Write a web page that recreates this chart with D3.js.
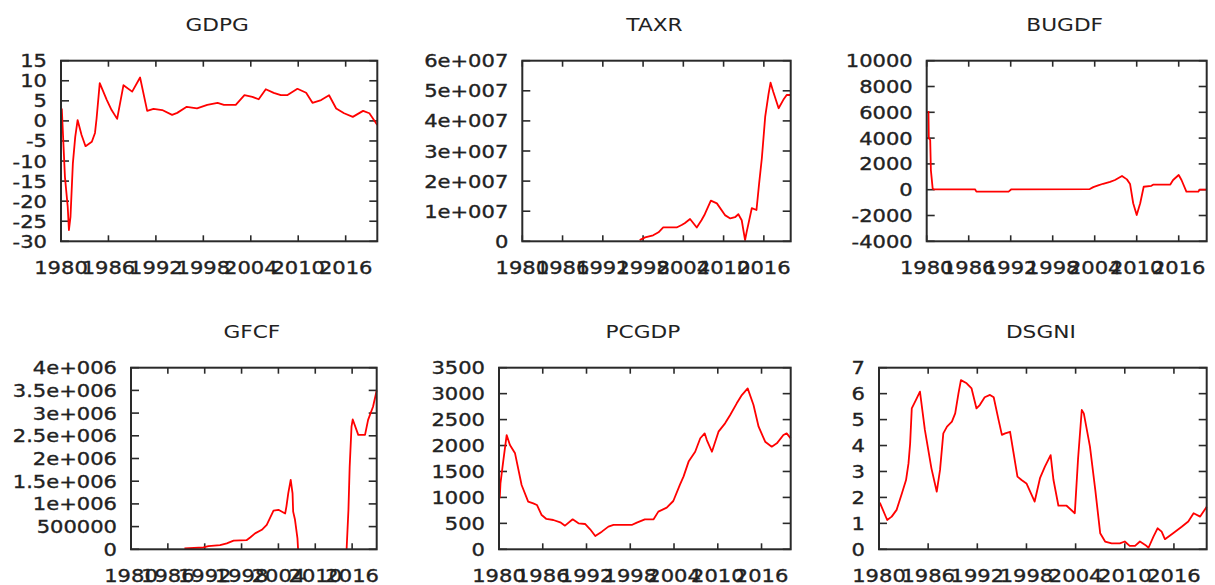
<!DOCTYPE html>
<html>
<head>
<meta charset="utf-8">
<script src="https://cdn.jsdelivr.net/npm/d3@7"></script>
<style>
  html, body { margin: 0; padding: 0; background: #fff; }
  svg { display: block; }
  text { font-family: "DejaVu Sans", Verdana, sans-serif; fill: #222; }
  text.tick { stroke: #222; stroke-width: 0.35px; }
</style>
</head>
<body>
<svg id="chart" width="1215" height="585"></svg>
<script>
// ---------- DATA ----------
const titles = ["GDPG", "TAXR", "BUGDF", "GFCF", "PCGDP", "DSGNI"];
const xTicks = [1980, 1986, 1992, 1998, 2004, 2010, 2016];
const xDomain = [1980, 2020];

// [year, value]
const gdpg = [[1980.1,3.1],[1980.5,-14],[1980.85,-21.4],[1981.0,-27.2],[1981.2,-23.9],[1981.5,-10.6],[1981.8,-4],[1982.1,0.2],[1982.6,-3.5],[1983.1,-6.3],[1983.9,-5.2],[1984.3,-3],[1984.5,0.6],[1984.9,9.4],[1985.8,5.2],[1986.4,2.7],[1987.1,0.5],[1987.9,8.9],[1989.0,7.3],[1990.0,10.8],[1990.9,2.5],[1991.7,3],[1992.8,2.7],[1994.05,1.5],[1994.7,2],[1995.9,3.5],[1997.2,3.1],[1998.5,4],[1999.8,4.5],[2000.6,4],[2002.1,4],[2003.2,6.4],[2004.2,6],[2005.0,5.4],[2005.9,7.9],[2006.9,7],[2007.8,6.4],[2008.6,6.4],[2009.9,8],[2011.0,7],[2011.8,4.5],[2012.9,5.2],[2013.9,6.4],[2014.8,3.1],[2015.8,1.9],[2016.9,1],[2018.2,2.5],[2019.0,1.9],[2020.0,-1]];
const taxr = [[1997.5,0.04e7],[1998.3,0.13e7],[1999.5,0.2e7],[2000.3,0.3e7],[2001.0,0.46e7],[2003.0,0.46e7],[2003.75,0.54e7],[2004.2,0.6e7],[2005.0,0.74e7],[2006.0,0.46e7],[2006.7,0.7e7],[2007.2,0.9e7],[2008.1,1.35e7],[2009.0,1.26e7],[2010.2,0.87e7],[2011.0,0.76e7],[2011.7,0.8e7],[2012.2,0.9e7],[2012.7,0.7e7],[2013.2,0.04e7],[2013.4,0.27e7],[2014.2,1.1e7],[2014.9,1.04e7],[2015.3,1.93e7],[2015.7,2.76e7],[2016.2,4.14e7],[2016.7,4.9e7],[2017.0,5.27e7],[2017.4,4.97e7],[2018.2,4.42e7],[2018.9,4.7e7],[2019.4,4.86e7],[2020.0,4.86e7]];
const bugdf = [[1980.25,6100],[1980.3,4000],[1980.5,3850],[1980.6,1500],[1980.85,100],[1980.95,30],[1986.9,30],[1987.1,-150],[1991.7,-150],[1992.1,30],[2003.3,50],[2003.8,200],[2004.5,330],[2005.2,460],[2006.2,600],[2006.9,750],[2007.9,1060],[2008.6,800],[2009.05,450],[2009.5,-1050],[2010.0,-1960],[2010.5,-1050],[2011.0,230],[2012.1,300],[2012.4,400],[2014.8,400],[2015.2,750],[2016.0,1140],[2016.4,750],[2017.1,-150],[2018.8,-150],[2019.0,0],[2020.0,0]];
const gfcf = [[1988.7,0.02e6],[1991.8,0.04e6],[1992.6,0.07e6],[1994.5,0.09e6],[1995.6,0.13e6],[1996.7,0.19e6],[1998.8,0.2e6],[1999.4,0.26e6],[2000.2,0.35e6],[2001.3,0.43e6],[2002.1,0.54e6],[2002.6,0.68e6],[2003.2,0.85e6],[2004.0,0.87e6],[2005.1,0.79e6],[2005.3,0.94e6],[2005.6,1.23e6],[2006.0,1.53e6],[2006.3,1.23e6],[2006.4,0.83e6],[2006.7,0.65e6],[2007.1,0.24e6],[2007.2,0],[2011.0,null],[2015.1,0],[2015.4,0.87e6],[2015.6,1.82e6],[2015.9,2.7e6],[2016.1,2.86e6],[2017.0,2.52e6],[2018.1,2.52e6],[2018.6,2.85e6],[2019.4,3.14e6],[2020.0,3.5e6]];
const pcgdp = [[1980.1,983],[1980.2,1270],[1980.6,1720],[1981.05,2200],[1981.5,2010],[1982.2,1850],[1983.1,1240],[1984.0,920],[1984.7,886],[1985.2,854],[1985.85,660],[1986.5,585],[1987.45,565],[1988.4,520],[1989.05,456],[1990.1,578],[1990.9,500],[1991.8,488],[1992.5,385],[1993.2,257],[1994.1,340],[1995.0,437],[1995.7,469],[1998.2,469],[1998.9,514],[2000.0,578],[2001.2,578],[2001.85,726],[2003.0,803],[2003.9,931],[2004.8,1240],[2005.3,1400],[2006.0,1690],[2006.9,1880],[2007.6,2140],[2008.2,2235],[2008.5,2106],[2009.2,1880],[2010.1,2267],[2011.0,2428],[2011.7,2588],[2012.6,2813],[2013.3,2973],[2014.1,3102],[2014.9,2781],[2015.6,2363],[2016.5,2074],[2017.4,1978],[2018.1,2042],[2019.0,2203],[2019.45,2235],[2020.0,2139]];
const dsgni = [[1980.1,1.8],[1981.0,1.13],[1981.55,1.26],[1982.15,1.52],[1982.8,2.16],[1983.3,2.67],[1983.6,3.31],[1983.8,4.08],[1984.0,5.43],[1984.5,5.75],[1985.0,6.08],[1985.6,4.6],[1986.4,3.12],[1987.05,2.22],[1987.45,3.06],[1987.85,4.47],[1988.3,4.73],[1988.9,4.92],[1989.3,5.24],[1989.7,6.01],[1990.0,6.52],[1990.7,6.4],[1991.3,6.2],[1991.9,5.43],[1992.3,5.56],[1992.9,5.86],[1993.55,5.95],[1994.0,5.86],[1994.6,4.98],[1995.0,4.41],[1995.4,4.47],[1996.0,4.53],[1996.4,3.76],[1996.9,2.8],[1997.4,2.67],[1998.0,2.54],[1999.0,1.84],[1999.65,2.74],[2000.25,3.19],[2000.95,3.63],[2001.3,2.67],[2001.9,1.68],[2002.9,1.68],[2003.9,1.39],[2004.3,3.5],[2004.75,5.37],[2005.0,5.24],[2005.3,4.73],[2005.75,3.96],[2006.4,2.29],[2007.0,0.62],[2007.6,0.3],[2008.4,0.23],[2009.4,0.23],[2010.0,0.3],[2010.6,0.13],[2011.25,0.13],[2011.85,0.3],[2012.5,0.17],[2012.9,0.06],[2013.5,0.49],[2014.0,0.81],[2014.5,0.68],[2014.9,0.39],[2015.9,0.62],[2016.95,0.87],[2017.75,1.07],[2018.4,1.39],[2019.2,1.26],[2020.0,1.64]];

const yTicksGDPG = [15,10,5,0,-5,-10,-15,-20,-25,-30];
const yTicksTAXR = [0,1e7,2e7,3e7,4e7,5e7,6e7];
const yTickLabelsTAXR = ["0","1e+007","2e+007","3e+007","4e+007","5e+007","6e+007"];
const yTicksBUGDF = [-4000,-2000,0,2000,4000,6000,8000,10000];
const yTicksGFCF = [0,5e5,1e6,1.5e6,2e6,2.5e6,3e6,3.5e6,4e6];
const yTickLabelsGFCF = ["0","500000","1e+006","1.5e+006","2e+006","2.5e+006","3e+006","3.5e+006","4e+006"];
const yTicksPCGDP = [0,500,1000,1500,2000,2500,3000,3500];
const yTicksDSGNI = [0,1,2,3,4,5,6,7];

// ---------- LAYOUT ----------
const panels = [
  {title: titles[0], data: gdpg,  ticks: yTicksGDPG,  labels: null,               dom: [-30,15],  box: [61, 377.3, 60.7, 241.3]},
  {title: titles[1], data: taxr,  ticks: yTicksTAXR,  labels: yTickLabelsTAXR,    dom: [0,6e7],   box: [522.3, 790.7, 60.7, 241.3]},
  {title: titles[2], data: bugdf, ticks: yTicksBUGDF, labels: null,               dom: [-4000,10000], box: [926.7, 1206.7, 60.7, 241.3]},
  {title: titles[3], data: gfcf,  ticks: yTicksGFCF,  labels: yTickLabelsGFCF,    dom: [0,4e6],   box: [131, 376.7, 367.7, 549.3]},
  {title: titles[4], data: pcgdp, ticks: yTicksPCGDP, labels: null,               dom: [0,3500],  box: [499, 790.7, 367.7, 549.3]},
  {title: titles[5], data: dsgni, ticks: yTicksDSGNI, labels: null,               dom: [0,7],     box: [879, 1206.7, 367.7, 549.3]}
];

const svg = d3.select("#chart");
const SX = 1.17;      // horizontal stretch of glyphs
const FS = 18;
const frameColor = "#2a2a2a";

panels.forEach(p => {
  const [L, R, T, B] = p.box;
  const x = d3.scaleLinear().domain(xDomain).range([L, R]);
  const y = d3.scaleLinear().domain(p.dom).range([B, T]);
  const g = svg.append("g");

  // title
  g.append("text")
    .attr("transform", `translate(${(L + R) / 2 - 2},${T - 30}) scale(${SX * 1.03},1)`)
    .attr("text-anchor", "middle")
    .attr("font-size", FS)
    .text(p.title);

  // ticks (inward, mirrored)
  const tk = g.append("g").attr("stroke", frameColor).attr("stroke-width", 1.6);
  xTicks.forEach(t => {
    const xx = x(t);
    tk.append("line").attr("x1", xx).attr("x2", xx).attr("y1", B).attr("y2", B - 6);
    tk.append("line").attr("x1", xx).attr("x2", xx).attr("y1", T).attr("y2", T + 6);
  });
  p.ticks.forEach(t => {
    const yy = y(t);
    tk.append("line").attr("x1", L).attr("x2", L + 8).attr("y1", yy).attr("y2", yy);
    tk.append("line").attr("x1", R).attr("x2", R - 8).attr("y1", yy).attr("y2", yy);
  });

  // y tick labels
  p.ticks.forEach((t, i) => {
    const lab = p.labels ? p.labels[i] : String(t);
    g.append("text")
      .attr("class", "tick")
      .attr("transform", `translate(${L - 14},${y(t) + 6.5}) scale(${SX},1)`)
      .attr("text-anchor", "end")
      .attr("font-size", FS)
      .text(lab);
  });

  // x tick labels
  xTicks.forEach(t => {
    g.append("text")
      .attr("class", "tick")
      .attr("transform", `translate(${x(t)},${B + 32.5}) scale(${SX},1)`)
      .attr("text-anchor", "middle")
      .attr("font-size", FS)
      .text(String(t));
  });

  // data line
  const line = d3.line()
    .defined(d => d[1] !== null)
    .x(d => x(d[0]))
    .y(d => y(d[1]));
  g.append("path")
    .datum(p.data)
    .attr("d", line)
    .attr("fill", "none")
    .attr("stroke", "#ff0000")
    .attr("stroke-width", 1.8)
    .attr("stroke-linejoin", "round");

  // frame
  g.append("rect")
    .attr("x", L).attr("y", T)
    .attr("width", R - L).attr("height", B - T)
    .attr("fill", "none")
    .attr("stroke", frameColor)
    .attr("stroke-width", 2);
});
</script>
</body>
</html>
